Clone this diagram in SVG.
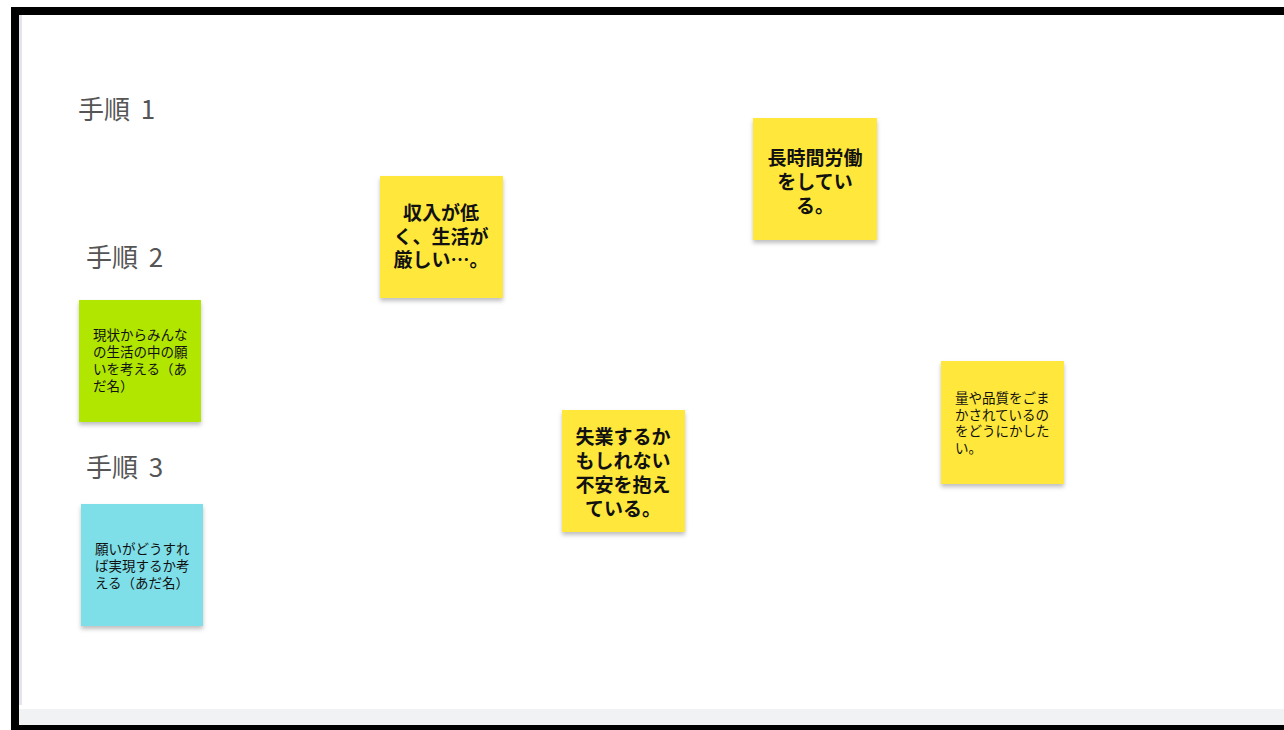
<svg xmlns="http://www.w3.org/2000/svg" width="1284" height="730" viewBox="0 0 1284 730">
<style>
.lbl{font-family:"Noto Sans CJK JP",sans-serif;font-size:26px;fill:#555555}
.big{font-family:"Noto Sans CJK JP",sans-serif;font-size:19px;font-weight:bold;fill:#111111;text-anchor:middle}
.sm{font-family:"Noto Sans CJK JP",sans-serif;font-size:13.5px;fill:#111111}
.note{filter:url(#sh)}
</style>
<defs>
<filter id="sh" x="-10%" y="-10%" width="120%" height="125%">
<feDropShadow dx="0" dy="3" stdDeviation="2" flood-color="#000" flood-opacity="0.25"/>
</filter>
</defs>
<rect x="0" y="0" width="1284" height="730" fill="#ffffff"/>
<rect x="11" y="7" width="1273" height="8" fill="#000"/>
<rect x="11" y="7" width="8" height="723" fill="#000"/>
<rect x="19" y="15" width="3" height="690" fill="#e4e4ea"/>
<rect x="19" y="709" width="1265" height="16" fill="#f1f2f4"/>
<rect x="11" y="725" width="1273" height="5" fill="#000"/>

<g id="step1"><text class="lbl" x="78" y="119">手順 <tspan dx="5">1</tspan></text></g>
<g id="step2"><text class="lbl" x="86" y="267">手順 <tspan dx="5">2</tspan></text></g>
<g id="step3"><text class="lbl" x="86" y="477">手順 <tspan dx="5">3</tspan></text></g>

<g id="note-green">
<rect class="note" x="79" y="300" width="122" height="122" fill="#b0e600"/>
<text class="sm"><tspan x="93" y="340">現状からみんな</tspan><tspan x="93" y="357">の生活の中の願</tspan><tspan x="93" y="374">いを考える（あ</tspan><tspan x="93" y="391">だ名）</tspan></text>
</g>
<g id="note-blue">
<rect class="note" x="81" y="504" width="122" height="122" fill="#7fdfe9"/>
<text class="sm"><tspan x="95" y="554">願いがどうすれ</tspan><tspan x="95" y="571">ば実現するか考</tspan><tspan x="95" y="588">える（あだ名）</tspan></text>
</g>
<g id="note-income">
<rect class="note" x="380" y="176" width="123" height="122" fill="#ffe83b"/>
<text class="big"><tspan x="441" y="220">収入が低</tspan><tspan x="441" y="244">く、生活が</tspan><tspan x="441" y="267">厳しい…。</tspan></text>
</g>
<g id="note-hours">
<rect class="note" x="753" y="118" width="124" height="122" fill="#ffe83b"/>
<text class="big"><tspan x="815" y="165">長時間労働</tspan><tspan x="815" y="189">をしてい</tspan><tspan x="815" y="213">る。</tspan></text>
</g>
<g id="note-job">
<rect class="note" x="562" y="410" width="123" height="122" fill="#ffe83b"/>
<text class="big"><tspan x="623" y="444">失業するか</tspan><tspan x="623" y="468">もしれない</tspan><tspan x="623" y="492">不安を抱え</tspan><tspan x="623" y="516">ている。</tspan></text>
</g>
<g id="note-quality">
<rect class="note" x="941" y="361" width="123" height="123" fill="#ffe83b"/>
<text class="sm"><tspan x="955" y="403">量や品質をごま</tspan><tspan x="955" y="420">かされているの</tspan><tspan x="955" y="436">をどうにかした</tspan><tspan x="955" y="453">い。</tspan></text>
</g>
<g id="connectors"></g>
</svg>
